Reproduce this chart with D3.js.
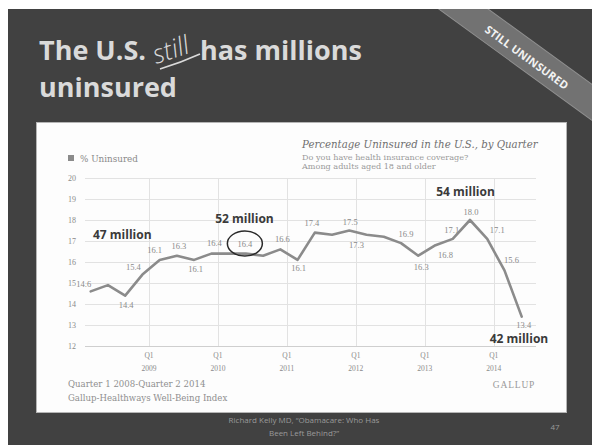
<!DOCTYPE html>
<html>
<head>
<meta charset="utf-8">
<script src="https://cdn.jsdelivr.net/npm/d3@7/dist/d3.min.js"></script>
<style>
  html, body { margin: 0; padding: 0; background: #fff; }
  svg { display: block; }
</style>
</head>
<body>
<script>
// Quarterly share of US adults without health insurance (Gallup-Healthways)
const quarters = [
  "Q1 2008","Q2 2008","Q3 2008","Q4 2008",
  "Q1 2009","Q2 2009","Q3 2009","Q4 2009",
  "Q1 2010","Q2 2010","Q3 2010","Q4 2010",
  "Q1 2011","Q2 2011","Q3 2011","Q4 2011",
  "Q1 2012","Q2 2012","Q3 2012","Q4 2012",
  "Q1 2013","Q2 2013","Q3 2013","Q4 2013",
  "Q1 2014","Q2 2014"
];
const uninsured = [
  14.6, 14.9, 14.4, 15.4,
  16.1, 16.3, 16.1, 16.4,
  16.4, 16.4, 16.3, 16.6,
  16.1, 17.4, 17.3, 17.5,
  17.3, 17.2, 16.9, 16.3,
  16.8, 17.1, 18.0, 17.1,
  15.6, 13.4
];
const yTicks = [12, 13, 14, 15, 16, 17, 18, 19, 20];
const yearTicks = ["2009", "2010", "2011", "2012", "2013", "2014"];

// Which quarters carry a value label, and where the label sits around its point
const valueLabels = [
  { i: 0, dx: -7, dy: -7 }, { i: 2, dx: 1, dy: 9.5 }, { i: 3, dx: -9, dy: -8 },
  { i: 4, dx: -5, dy: -10 }, { i: 5, dx: 2, dy: -10 }, { i: 6, dx: 1.5, dy: 9 },
  { i: 7, dx: 3, dy: -11 }, { i: 9, dx: -1, dy: -10, ring: true }, { i: 11, dx: 2, dy: -10 },
  { i: 12, dx: 1, dy: 8.5 }, { i: 13, dx: -3, dy: -10 }, { i: 15, dx: 1, dy: -9 },
  { i: 16, dx: -10, dy: 10 }, { i: 18, dx: 5, dy: -9.5 }, { i: 19, dx: 3, dy: 11 },
  { i: 20, dx: 10, dy: 10 }, { i: 21, dx: -1, dy: -9 }, { i: 22, dx: 1, dy: -8 },
  { i: 23, dx: 10, dy: -9 }, { i: 24, dx: 7, dy: -10 }, { i: 25, dx: 2, dy: 8.5 }
];

// Headcount call-outs, placed in data space (quarter index, percent)
const callouts = [
  { text: "47 million", at: [0.13, 17.1], anchor: "start" },
  { text: "52 million", at: [8.92, 17.86], anchor: "middle" },
  { text: "54 million", at: [21.74, 19.14], anchor: "middle" },
  { text: "42 million", at: [24.84, 12.14], anchor: "middle" }
];

const W = 592, H = 445;
const svg = d3.select("body").append("svg").attr("width", W).attr("height", H);

// ---------- slide ----------
const slide = { x: 8, y: 9, w: W - 8, h: H - 9 };
svg.append("rect").attr("width", W).attr("height", H).attr("fill", "#fff");
svg.append("clipPath").attr("id", "slideClip")
  .append("rect").attr("x", slide.x).attr("y", slide.y).attr("width", slide.w).attr("height", slide.h);
svg.append("rect").attr("x", slide.x).attr("y", slide.y).attr("width", slide.w).attr("height", slide.h)
  .attr("fill", "#414141");

// corner ribbon
const ribbon = svg.append("g").attr("clip-path", "url(#slideClip)")
  .append("g").attr("transform", "translate(531,55) rotate(36)");
ribbon.append("rect").attr("x", -140).attr("y", -12).attr("width", 280).attr("height", 29)
  .attr("fill", "#727272").attr("stroke", "#909090").attr("stroke-width", 1);
ribbon.append("text").attr("x", -2).attr("y", 8.5)
  .attr("text-anchor", "middle")
  .style("font-family", "'Open Sans', sans-serif").style("font-weight", 700)
  .style("font-size", "11px").style("letter-spacing", "0.2px")
  .attr("fill", "#f2f2f2").text("STILL UNINSURED");

// title
const titleFont = "'Open Sans', sans-serif";
const title = svg.append("g").attr("fill", "#dadada")
  .style("font-family", titleFont).style("font-weight", 700).style("font-size", "27px");
title.append("text").attr("x", 39).attr("y", 60).text("The U.S.");
title.append("text").attr("x", 200).attr("y", 60).text("has millions");
title.append("text").attr("x", 39).attr("y", 97).text("uninsured");
// hand-written "still" with its underline stroke
svg.append("text").attr("transform", "translate(156,64) rotate(-18)")
  .style("font-family", titleFont).style("font-style", "italic").style("font-weight", 300)
  .style("font-size", "26px").attr("fill", "#dadada").text("still");
svg.append("path").attr("d", "M160,69 Q180,63 200,54")
  .attr("fill", "none").attr("stroke", "#dadada").attr("stroke-width", 1.6);

// footer
const foot = svg.append("g").attr("fill", "#9a9a9a")
  .style("font-family", "'Open Sans', sans-serif").style("font-size", "8px");
foot.append("text").attr("x", 304).attr("y", 423).attr("text-anchor", "middle")
  .text("Richard Kelly MD, \u201cObamacare: Who Has");
foot.append("text").attr("x", 304).attr("y", 436).attr("text-anchor", "middle")
  .text("Been Left Behind?\u201d");
foot.append("text").attr("x", 555).attr("y", 430).attr("text-anchor", "middle").text("47");

// ---------- chart panel ----------
svg.append("rect").attr("x", 36.5).attr("y", 122.5).attr("width", 530).attr("height", 290)
  .attr("fill", "#fdfdfd").attr("stroke", "#b5b5b5").attr("stroke-width", 1);

const serif = "'DejaVu Serif', serif";
const numFont = "'Liberation Serif', serif";

const x = d3.scaleLinear().domain([0, quarters.length - 1]).range([90.7, 521.7]);
const y = d3.scaleLinear().domain([12, 20]).range([346, 178]);
const grid = { x0: 85, x1: 536 };
const yearOffset = 0.62; // year rules sit a little ahead of each Q1 point

// horizontal rules + y labels
const gy = svg.append("g");
gy.selectAll("line").data(yTicks).join("line")
  .attr("x1", grid.x0).attr("x2", grid.x1)
  .attr("y1", d => y(d) + 0.5).attr("y2", d => y(d) + 0.5)
  .attr("stroke", d => d === 12 ? "#cfcfcf" : "#e2e2e2").attr("stroke-width", 1);
gy.selectAll("text").data(yTicks).join("text")
  .attr("x", 68).attr("y", d => y(d) + 3)
  .style("font-family", numFont).style("font-size", "8px").attr("fill", "#8a8a8a")
  .text(d => d);

// vertical year rules + labels
const yearIdx = yearTicks.map((yr, k) => (k + 1) * 4 - yearOffset);
const gx = svg.append("g");
gx.selectAll("line").data(yearIdx).join("line")
  .attr("x1", d => Math.round(x(d)) + 0.5).attr("x2", d => Math.round(x(d)) + 0.5)
  .attr("y1", y(20)).attr("y2", y(12))
  .attr("stroke", "#e2e2e2").attr("stroke-width", 1);
const xl = gx.selectAll("g.lab").data(yearTicks).join("g").attr("class", "lab")
  .attr("transform", (d, k) => `translate(${x(yearIdx[k])},0)`)
  .style("font-family", numFont).attr("fill", "#8a8a8a").attr("text-anchor", "middle");
xl.append("text").attr("y", 358).style("font-size", "7.5px").text("Q1");
xl.append("text").attr("y", 371).style("font-size", "7.5px").text(d => d);

// the series line
svg.append("path").datum(uninsured)
  .attr("d", d3.line().x((d, i) => x(i)).y(d => y(d)))
  .attr("fill", "none").attr("stroke", "#8b8b8b").attr("stroke-width", 2.6)
  .attr("stroke-linejoin", "round").attr("stroke-linecap", "round");

// value labels
svg.append("g").selectAll("text").data(valueLabels).join("text")
  .attr("x", d => x(d.i) + d.dx).attr("y", d => y(uninsured[d.i]) + d.dy + 3)
  .attr("text-anchor", "middle")
  .style("font-family", numFont).style("font-size", "8.5px").attr("fill", "#8a8a8a")
  .text(d => uninsured[d.i].toFixed(1));

// ring around one value
valueLabels.filter(d => d.ring).forEach(d => {
  svg.append("ellipse")
    .attr("cx", x(d.i) + d.dx).attr("cy", y(uninsured[d.i]) + d.dy)
    .attr("rx", 17.5).attr("ry", 12.5)
    .attr("fill", "none").attr("stroke", "#2a2a2a").attr("stroke-width", 1.5);
});

// headcount call-outs
svg.append("g").selectAll("text").data(callouts).join("text")
  .attr("x", d => x(d.at[0])).attr("y", d => y(d.at[1]))
  .attr("text-anchor", d => d.anchor)
  .style("font-family", "'Open Sans', sans-serif").style("font-weight", 700)
  .style("font-size", "12px").attr("fill", "#3a3a3a")
  .text(d => d.text);

// legend
svg.append("rect").attr("x", 68).attr("y", 155).attr("width", 6).attr("height", 6).attr("fill", "#8b8b8b");
svg.append("text").attr("x", 80).attr("y", 161.5)
  .style("font-family", serif).style("font-size", "8.8px").attr("fill", "#8a8a8a")
  .text("% Uninsured");

// chart heading
svg.append("text").attr("x", 302).attr("y", 148)
  .style("font-family", serif).style("font-style", "italic").style("font-size", "10.2px")
  .attr("fill", "#6f6f6f").text("Percentage Uninsured in the U.S., by Quarter");
const sub = svg.append("g").style("font-family", serif).style("font-size", "8.1px").attr("fill", "#9a9a9a");
sub.append("text").attr("x", 302).attr("y", 159.5).text("Do you have health insurance coverage?");
sub.append("text").attr("x", 302).attr("y", 169).text("Among adults aged 18 and older");

// source lines
const src = svg.append("g").style("font-family", serif).style("font-size", "8.6px").attr("fill", "#8f8f8f");
src.append("text").attr("x", 68).attr("y", 387).text("Quarter 1 2008-Quarter 2 2014");
src.append("text").attr("x", 68).attr("y", 401).text("Gallup-Healthways Well-Being Index");
svg.append("text").attr("x", 514).attr("y", 388).attr("text-anchor", "middle")
  .style("font-family", numFont).style("font-size", "9.5px").style("letter-spacing", "0.8px")
  .attr("fill", "#9a9a9a").text("GALLUP");
</script>
</body>
</html>
